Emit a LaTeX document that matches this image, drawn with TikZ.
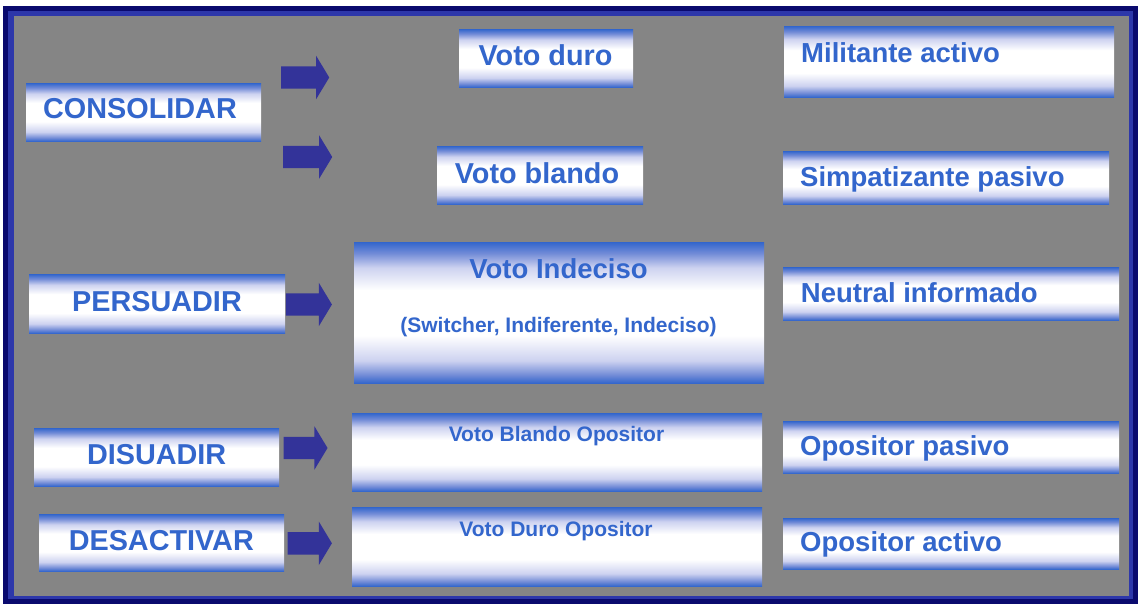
\documentclass[tikz,border=0pt]{standalone}
\usepackage{fontspec}
\setmainfont{Liberation Sans}
\usetikzlibrary{shapes.arrows}
\definecolor{txtblue}{RGB}{51,102,204}
\definecolor{eb}{RGB}{51,102,204}
\definecolor{midb}{RGB}{115,140,215}
\definecolor{lav}{RGB}{205,210,240}
\definecolor{arrnavy}{RGB}{51,51,153}
\definecolor{bggray}{RGB}{133,133,133}
\definecolor{navyA}{RGB}{10,10,110}
\definecolor{navyB}{RGB}{45,55,170}
\pgfdeclareverticalshading{tube}{100bp}{color(0bp)=(eb); color(25bp)=(eb); color(28bp)=(midb); color(33bp)=(lav); color(42bp)=(white); color(58bp)=(white); color(66bp)=(lav); color(71bp)=(midb); color(75bp)=(eb); color(100bp)=(eb)}
\begin{document}
\begin{tikzpicture}[x=1pt,y=-1pt,
  vbox/.style={rectangle, shading=tube, draw=none, inner sep=0pt, anchor=north west},
  lblA/.style={text=txtblue, font=\bfseries\fontsize{28.8}{30}\selectfont, inner sep=0pt},
  lblR/.style={text=txtblue, font=\bfseries\fontsize{27.5}{30}\selectfont, inner sep=0pt},
  lblS/.style={text=txtblue, font=\bfseries\fontsize{21}{24}\selectfont, inner sep=0pt},
  barrow/.style={single arrow, fill=arrnavy, draw=none, inner xsep=0pt, inner ysep=11pt,
     minimum width=43pt, single arrow head extend=10.5pt, single arrow tip angle=118, anchor=west}
]
\useasboundingbox (0,0) rectangle (1139,604);
% frame
\fill[navyA] (3,6) rectangle (1138,604);
\fill[navyB] (8,11) rectangle (1133,599);
\fill[bggray] (14,16) rectangle (1129,596);

% left column
\node[vbox, minimum width=235pt, minimum height=58pt] (consol) at (26,83) {};
\node[vbox, minimum width=256pt, minimum height=59pt] (persu) at (29,274) {};
\node[vbox, minimum width=245pt, minimum height=58pt] (disua) at (34,428) {};
\node[vbox, minimum width=245pt, minimum height=57pt] (desac) at (39,514) {};
\node[lblA, anchor=base] (consolT) at (140,119) {CONSOLIDAR};
\node[lblA, anchor=base] (persuT) at (157,311.7) {PERSUADIR};
\node[lblA, anchor=base] (disuaT) at (156.7,464.3) {DISUADIR};
\node[lblA, anchor=base] (desacT) at (161.3,550.7) {DESACTIVAR};

% middle column
\node[vbox, minimum width=174pt, minimum height=58pt] (vduro) at (459,29) {};
\node[vbox, minimum width=206pt, minimum height=58pt] (vblando) at (437,146) {};
\node[vbox, minimum width=410pt, minimum height=141pt] (vindec) at (354,242) {};
\node[vbox, minimum width=410pt, minimum height=78pt] (vbop) at (352,413) {};
\node[vbox, minimum width=410pt, minimum height=79pt] (vdop) at (352,507) {};
\node[lblA, anchor=base] (vduroT) at (545.5,65.7) {Voto duro};
\node[lblA, anchor=base] (vblandoT) at (537,183.3) {Voto blando};
\node[lblR, anchor=base] (vindecT) at (558.5,278.3) {Voto Indeciso};
\node[lblS, anchor=base] (vindecS) at (558.5,332.7) {(Switcher, Indiferente, Indeciso)};
\node[lblS, anchor=base] (vbopT) at (556.5,441) {Voto Blando Opositor};
\node[lblS, anchor=base] (vdopT) at (556,536) {Voto Duro Opositor};

% right column
\node[vbox, minimum width=330pt, minimum height=71pt] (milit) at (784,26) {};
\node[vbox, minimum width=326pt, minimum height=53pt] (simpa) at (783,151) {};
\node[vbox, minimum width=336pt, minimum height=53pt] (neutr) at (783,267) {};
\node[vbox, minimum width=336pt, minimum height=52pt] (opas) at (783,421) {};
\node[vbox, minimum width=336pt, minimum height=51pt] (oact) at (783,518) {};
\node[lblR, anchor=base west] (militT) at (801,62.3) {Militante activo};
\node[lblR, anchor=base west] (simpaT) at (800,186.7) {Simpatizante pasivo};
\node[lblR, anchor=base west] (neutrT) at (800.7,302.7) {Neutral informado};
\node[lblR, anchor=base west] (opasT) at (800,455) {Opositor pasivo};
\node[lblR, anchor=base west] (oactT) at (800,551.7) {Opositor activo};

% block arrows
\node[barrow, minimum height=48pt] (a1) at (281,77.5) {};
\node[barrow, minimum height=49pt] (a2) at (283,157) {};
\node[barrow, minimum height=46pt] (a3) at (285.7,304.5) {};
\node[barrow, minimum height=44pt] (a4) at (283.3,448) {};
\node[barrow, minimum height=44.4pt] (a5) at (287.3,543.3) {};
\end{tikzpicture}
\end{document}
